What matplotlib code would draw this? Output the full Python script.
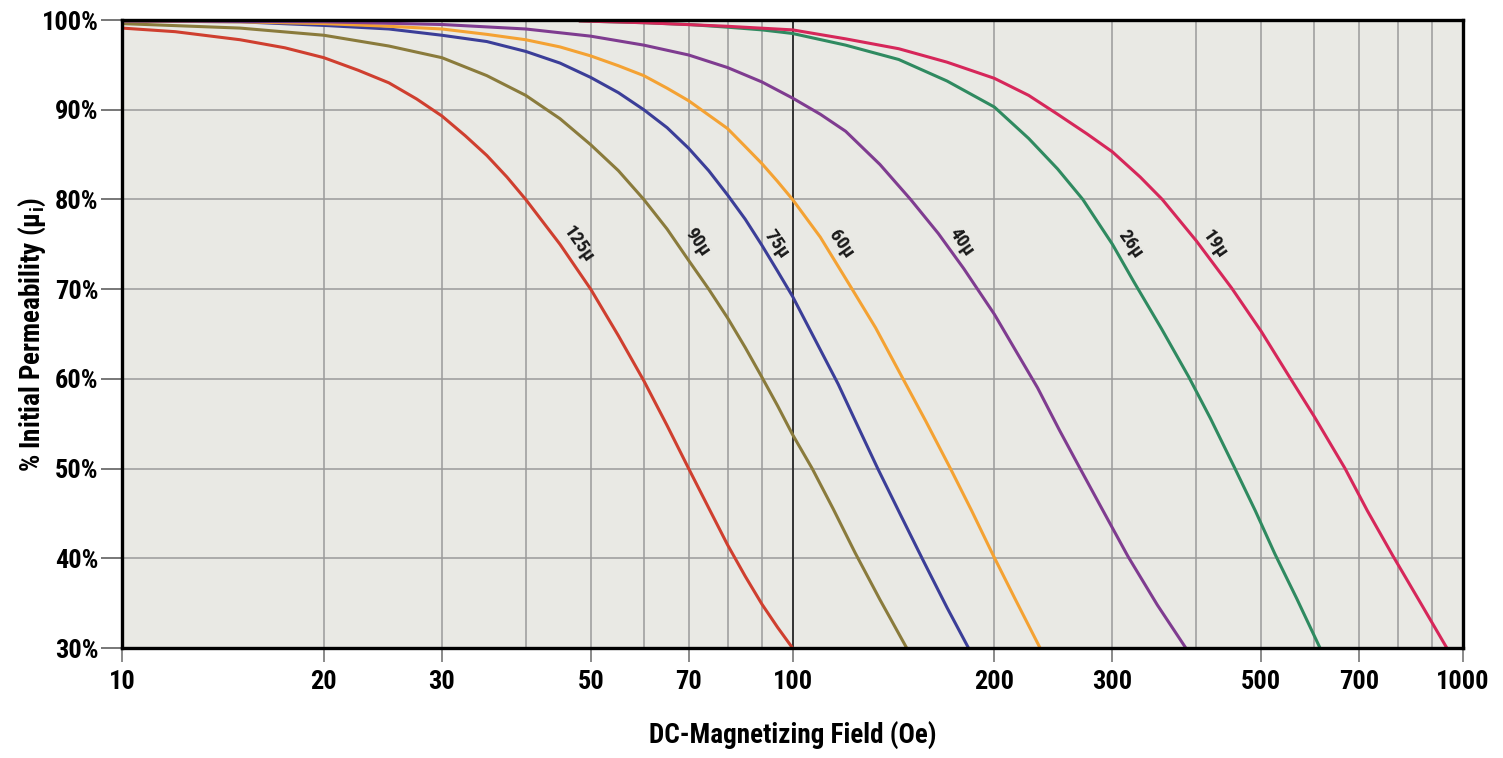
import matplotlib
matplotlib.use("Agg")
import matplotlib.pyplot as plt
from matplotlib import font_manager
from matplotlib.ticker import FixedLocator, NullFormatter, FixedFormatter

# DC bias curves: DC-magnetizing field (Oe) vs. % of initial permeability
field_125 = [10, 12, 15, 17.5, 20, 22.5, 25, 27.5, 30, 32.5, 35, 37.5, 40, 45, 50, 55, 60, 65, 70,
             75, 80, 85, 90, 95, 100]
perm_125 = [99.1, 98.7, 97.8, 96.9, 95.8, 94.4, 93.0, 91.2, 89.3, 87.1, 84.9, 82.5, 80.0, 75.0,
            70.0, 64.8, 59.8, 54.8, 50.0, 45.6, 41.5, 38.0, 34.9, 32.3, 30.0]

field_90 = [10, 15, 20, 25, 30, 35, 40, 45, 50, 55, 60, 65, 70, 75, 80, 85, 90, 95, 100, 107, 115,
            124, 135, 148]
perm_90 = [99.6, 99.1, 98.3, 97.1, 95.8, 93.8, 91.6, 89.0, 86.1, 83.2, 80.0, 76.7, 73.2, 70.0, 66.8,
           63.5, 60.2, 57.0, 53.8, 50.0, 45.5, 40.6, 35.4, 30.0]

field_75 = [10, 15, 20, 25, 30, 35, 40, 45, 50, 55, 60, 65, 70, 75, 80, 85, 90, 95, 100, 108, 117,
            125, 134, 145, 157, 170, 183]
perm_75 = [99.9, 99.8, 99.4, 99.0, 98.3, 97.6, 96.5, 95.2, 93.6, 91.9, 90.0, 88.0, 85.7, 83.2, 80.5,
           77.8, 74.9, 72.0, 69.2, 64.4, 59.4, 54.8, 50.0, 44.8, 39.6, 34.5, 30.0]

field_60 = [10, 15, 20, 25, 30, 35, 40, 45, 50, 55, 60, 65, 70, 75, 80, 85, 90, 95, 100, 110, 121.8,
            133, 144.7, 158, 172, 185, 199, 215, 234]
perm_60 = [99.9, 99.8, 99.6, 99.3, 99.0, 98.4, 97.8, 97.0, 96.0, 94.9, 93.8, 92.4, 91.0, 89.4, 87.9,
           85.9, 84.0, 82.0, 80.0, 75.8, 70.4, 65.7, 60.6, 55.3, 50.0, 45.3, 40.4, 35.4, 30.0]

field_40 = [10, 20, 30, 40, 50, 60, 70, 80, 90, 100, 110, 120, 135, 150, 165, 180, 200, 215, 232,
            250, 268.5, 290, 316.5, 350, 386]
perm_40 = [99.9, 99.8, 99.5, 99.0, 98.2, 97.2, 96.1, 94.7, 93.1, 91.3, 89.5, 87.6, 83.9, 80.0, 76.2,
           72.3, 67.2, 63.2, 59.0, 54.3, 50.0, 45.4, 40.2, 34.8, 30.0]

field_26 = [48, 60, 70, 80, 90, 100, 120, 144, 170, 200, 225, 248.5, 271, 300, 323, 355, 390, 420,
            457, 490, 524, 565, 612]
perm_26 = [99.9, 99.7, 99.5, 99.2, 98.9, 98.5, 97.2, 95.6, 93.2, 90.3, 86.8, 83.4, 80.0, 75.0, 70.8,
           65.6, 60.2, 55.6, 50.0, 45.3, 40.5, 35.5, 30.0]

field_19 = [48, 60, 80, 100, 120, 144, 170, 200, 225, 248.5, 275, 300, 330, 356, 400, 452, 500, 548,
            600, 667, 720, 787, 860, 946]
perm_19 = [99.9, 99.7, 99.3, 98.9, 97.9, 96.8, 95.3, 93.5, 91.6, 89.5, 87.3, 85.3, 82.5, 80.0, 75.4,
           70.1, 65.3, 60.5, 55.8, 50.0, 45.3, 40.2, 35.3, 30.0]

curve_labels = ["125µ", "90µ", "75µ", "60µ", "40µ", "26µ", "19µ"]
curve_colors = ["#cf3f2f", "#8a7b3c", "#3b3e98", "#f4a233", "#7f3c90", "#2f8a60", "#d6275a"]
label_field = [47.9, 72.0, 94.5, 118.1, 178.9, 318.7, 426.7]
label_perm = [75.0, 75.2, 75.0, 75.0, 75.2, 75.0, 75.0]

x_ticks = [10, 20, 30, 50, 70, 100, 200, 300, 500, 700, 1000]
y_ticks = [30, 40, 50, 60, 70, 80, 90, 100]

series = [(field_125, perm_125), (field_90, perm_90), (field_75, perm_75), (field_60, perm_60),
          (field_40, perm_40), (field_26, perm_26), (field_19, perm_19)]


def pick_narrow_family():
    """Return a narrow/condensed family if one is installed, else None."""
    entries = font_manager.fontManager.ttflist
    names = {f.name for f in entries}
    for name in ["Liberation Sans Narrow", "Roboto Condensed", "Noto Sans Condensed",
                 "Open Sans Condensed", "DejaVu Sans Condensed"]:
        if name in names:
            return name, "normal"
    for f in entries:
        low = f.name.lower()
        if ("narrow" in low or "condensed" in low) and "mono" not in low and "serif" not in low:
            return f.name, "normal"
    for f in entries:
        if f.stretch in ("condensed", "semi-condensed", "extra-condensed") and "Sans" in f.name \
                and "Mono" not in f.name:
            return f.name, f.stretch
    return None, "normal"


narrow, stretch = pick_narrow_family()
if narrow is not None:
    FONT = [narrow, "DejaVu Sans"]
    tick_size, axis_size, curve_size = 19, 19.5, 14
else:
    FONT = ["Liberation Sans", "DejaVu Sans"]
    tick_size, axis_size, curve_size = 16, 17, 13
plt.rcParams["font.family"] = FONT
plt.rcParams["font.stretch"] = stretch

fig = plt.figure(figsize=(15.03, 7.58), dpi=100)
ax = fig.add_axes([0.0812, 0.1451, 0.8922, 0.8285])
ax.set_facecolor("#e9e9e4")

ax.set_xscale("log")
ax.set_xlim(10, 1000)
ax.set_ylim(30, 100)

# grid: every step inside each decade on x, every 10 % on y
minor_x = [v * d for d in (10, 100) for v in range(2, 10)]
ax.xaxis.set_major_locator(FixedLocator(x_ticks))
ax.xaxis.set_major_formatter(FixedFormatter([str(v) for v in x_ticks]))
ax.xaxis.set_minor_locator(FixedLocator(minor_x))
ax.xaxis.set_minor_formatter(NullFormatter())
ax.yaxis.set_major_locator(FixedLocator(y_ticks))
ax.yaxis.set_major_formatter(FixedFormatter([f"{v}%" for v in y_ticks]))

ax.grid(True, which="both", axis="x", color="#9a9a9a", linewidth=1.1)
ax.grid(True, which="major", axis="y", color="#9a9a9a", linewidth=1.1)
ax.set_axisbelow(True)
ax.axvline(100, color="#333333", linewidth=1.4, zorder=1.5)

ax.tick_params(axis="x", which="minor", length=0)
ax.tick_params(axis="x", which="major", length=10, width=1.2, color="#777777",
               labelsize=tick_size, pad=6)
ax.tick_params(axis="y", which="major", length=15, width=1.4, color="#777777",
               labelsize=tick_size, pad=2)
for lab in ax.get_xticklabels() + ax.get_yticklabels():
    lab.set_fontweight("bold")

for sp in ax.spines.values():
    sp.set_linewidth(2.4)
    sp.set_color("black")
    sp.set_zorder(5)

for (fx, py), col in zip(series, curve_colors):
    ax.plot(fx, py, color=col, linewidth=2.2, solid_capstyle="butt", solid_joinstyle="round",
            zorder=3)

for txt, lx, ly in zip(curve_labels, label_field, label_perm):
    ax.text(lx, ly, txt, rotation=-55, rotation_mode="anchor", ha="center", va="center",
            fontsize=curve_size, fontweight="bold", color="#1a1a1a", zorder=4)

ax.set_xlabel("DC-Magnetizing Field (Oe)", fontsize=axis_size, fontweight="bold")
ax.set_ylabel(r"% Initial Permeability (µ$_{\mathregular{i}}$)", fontsize=axis_size,
              fontweight="bold")
ax.xaxis.set_label_coords(0.5, -0.117)
ax.yaxis.set_label_coords(-0.055, 0.5)

fig.savefig("out.png", dpi=100, facecolor="white")
